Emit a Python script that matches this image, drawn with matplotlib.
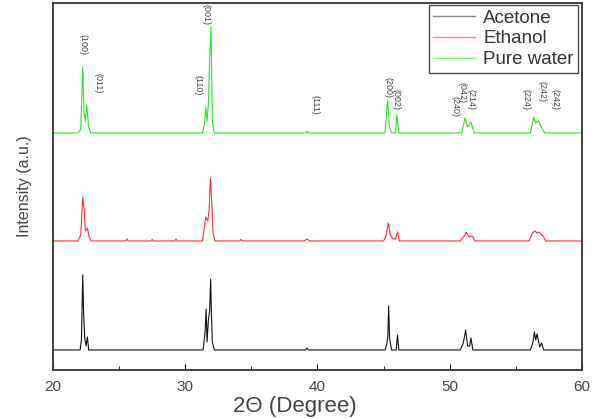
import matplotlib.pyplot as plt

plt.rcParams['font.family'] = ['Liberation Sans', 'DejaVu Sans']

# XRD traces, 2-theta (degree) vs intensity above each baseline (a.u.)
acetone_x = [20, 22.05, 22.15, 22.25, 22.32, 22.4, 22.5, 22.6, 22.7, 31.35, 31.5, 31.58, 31.65, 31.75,
             31.85, 31.92, 31.98, 32.05, 32.2, 39.1, 39.2, 39.3, 45.1, 45.25, 45.32, 45.38, 45.45, 45.6,
             45.95, 46.05, 46.15, 50.8, 51.0, 51.1, 51.2, 51.35, 51.5, 51.6, 51.75, 56.1, 56.3, 56.4,
             56.5, 56.6, 56.8, 56.95, 57.1, 60]
acetone_y = [0, 0, 10, 75, 35, 12, 4, 13, 0, 0, 18, 41, 8, 30,
             40, 71, 37, 8, 0, 0, 2, 0, 0, 6, 15, 44, 12, 0,
             0, 15, 0, 0, 6, 12, 20, 4, 4, 12, 0, 0, 8, 18,
             10, 16, 3, 7, 0, 0]

ethanol_x = [20, 21.9, 22.1, 22.25, 22.35, 22.45, 22.6, 22.75, 22.9, 25.5, 25.6, 25.7, 27.4, 27.5, 27.6,
             29.2, 29.3, 29.4, 31.3, 31.45, 31.55, 31.7, 31.8, 31.9, 32.0, 32.1, 32.25, 34.1, 34.2, 34.3,
             39.0, 39.2, 39.4, 45.0, 45.2, 45.35, 45.5, 45.7, 45.9, 46.05, 46.2, 50.8, 51.05, 51.25,
             51.45, 51.6, 51.75, 51.9, 56.0, 56.25, 56.45, 56.6, 56.75, 56.95, 57.05, 57.25, 60]
ethanol_y = [0, 0, 6, 44, 32, 10, 13, 3, 0, 0, 2, 0, 0, 1.5, 0,
             0, 2, 0, 0, 14, 24, 20, 30, 63, 40, 8, 0, 0, 1.5, 0,
             0, 2, 0, 0, 6, 18, 6, 2, 2, 9, 0, 0, 4, 9,
             4, 5, 4, 0, 0, 8, 10, 8, 9, 6, 5, 0, 0]

water_x = [20, 21.9, 22.1, 22.25, 22.35, 22.45, 22.55, 22.7, 22.85, 31.3, 31.45, 31.55, 31.65, 31.75,
           31.85, 31.95, 32.05, 32.2, 39.1, 39.2, 39.3, 45.1, 45.3, 45.45, 45.6, 45.9, 46.0, 46.15,
           50.9, 51.15, 51.35, 51.6, 51.85, 56.1, 56.35, 56.5, 56.7, 56.95, 57.2, 60]
water_y = [0, 0, 4, 66, 20, 12, 28, 6, 0, 0, 8, 26, 12, 30,
           75, 106, 10, 0, 0, 2, 0, 0, 33, 5, 0, 0, 18, 0,
           0, 15, 6, 11, 0, 0, 16, 10, 12, 5, 0, 0]

names = ['Acetone', 'Ethanol', 'Pure water']
offsets = [20, 129, 237]
colors = ['#111111', '#ff3030', '#30e030']

# Miller indices labelled above the pure-water trace
hkl_labels = ['(100)', '(011)', '(110)', '(001)', '(111)', '(200)', '(002)',
              '(240)', '(042)', '(214)', '(224)', '(242)', '(242)']
hkl_x = [22.25, 23.4, 30.95, 31.55, 39.8, 45.33, 45.9, 50.4, 50.9, 51.58, 55.8, 57.0, 57.96]
hkl_y = [325, 287, 285, 355, 265, 282, 270, 263, 277, 270, 270, 278, 270]

fig = plt.figure(figsize=(5.94, 4.19), dpi=100)
ax = fig.add_axes([0.0892, 0.117, 0.8906, 0.876])

traces = [(acetone_x, acetone_y), (ethanol_x, ethanol_y), (water_x, water_y)]
for (xs, ys), off, c, name in zip(traces, offsets, colors, names):
    ax.plot(xs, [v + off for v in ys], color=c, lw=0.8, label=name)

for lab, x, y in zip(hkl_labels, hkl_x, hkl_y):
    ax.text(x, y, lab, rotation=270, ha='center', va='center', fontsize=6.5,
            color='#444444', clip_on=True)

ax.set_xlim(20, 60)
ax.set_ylim(0, 367)
ax.set_xticks([20, 30, 40, 50, 60])
ax.set_xticks([25, 35, 45, 55], minor=True)
ax.set_yticks([])
ax.tick_params(axis='x', direction='in', length=4, labelsize=11, labelcolor='#444444', pad=7)
ax.tick_params(axis='x', which='minor', direction='in', length=3)
for s in ax.spines.values():
    s.set_linewidth(1.3)
    s.set_color('#333333')

ax.set_xlabel('2\u0398 (Degree)', fontsize=16, color='#444444', va='center')
ax.xaxis.set_label_coords(0.457, -0.1)
ax.set_ylabel('Intensity (a.u.)', fontsize=11.5, color='#444444', labelpad=15)

leg = ax.legend(loc='upper right', bbox_to_anchor=(0.993, 0.995), borderaxespad=0,
                fontsize=13.5, fancybox=False, edgecolor='#222222', handlelength=2.2,
                handletextpad=0.45, labelspacing=0.2, borderpad=0.25)
leg.get_frame().set_linewidth(1.0)
for line, c in zip(leg.get_lines(), ['#888888', '#ff8080', '#80ee80']):
    line.set_linewidth(1.0)
    line.set_color(c)
for t in leg.get_texts():
    t.set_color('#333333')

fig.savefig('out.png', dpi=100)
